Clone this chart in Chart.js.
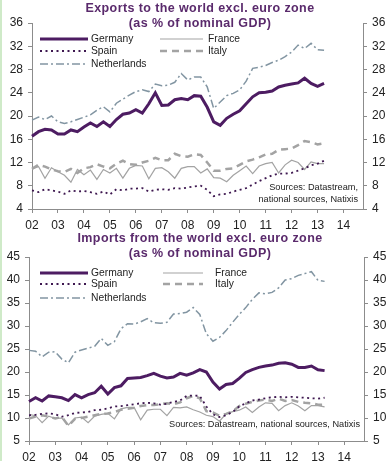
<!DOCTYPE html>
<html>
<head>
<meta charset="utf-8">
<script src="https://cdn.jsdelivr.net/npm/chart.js@4.4.1/dist/chart.umd.min.js"></script>
<style>
  body { margin: 0; background: #fff; }
  #wrap { position: relative; width: 391px; height: 461px; overflow: hidden; }
  #wrap canvas { position: absolute; left: 0; }
  #strip { position: absolute; left: 0; top: 0; width: 2px; height: 461px; background: #cfeac8; z-index: 2; }
</style>
</head>
<body>
<div id="wrap">
  <div id="strip"></div>
  <canvas id="exports_chart" style="top:0" width="391" height="230"></canvas>
  <canvas id="imports_chart" style="top:230px" width="391" height="231"></canvas>
</div>
<script>
// quarterly axis 2002Q1 .. 2014Q4
var years = [2002, 2003, 2004, 2005, 2006, 2007, 2008, 2009, 2010, 2011, 2012, 2013, 2014];
var quarters = [];
years.forEach((y) => {
    ["Q1", "Q2", "Q3", "Q4"].forEach((q) => quarters.push(y + q));
});

// exports to the world excl. euro zone, % of GDP (2002Q1 .. 2013Q2)
var germany_exp = [16.5, 17.3, 17.7, 17.6, 16.9, 16.9, 17.6, 17.3, 18.1, 18.8, 18.2, 19.0, 18.2, 19.4, 20.3, 20.5, 21.1, 20.5, 22.1, 24.0, 21.8, 21.9, 22.8, 23.0, 22.8, 23.5, 23.4, 21.5, 19.0, 18.4, 19.6, 20.3, 20.9, 22.1, 23.3, 24.0, 24.1, 24.3, 25.0, 25.3, 25.5, 25.7, 26.5, 25.6, 25.1, 25.6];
var france_exp = [10.9, 11.3, 9.3, 11.1, 10.4, 9.8, 8.6, 10.8, 9.9, 10.7, 9.1, 10.8, 10.2, 11.0, 9.3, 11.0, 11.5, 11.4, 9.2, 11.0, 11.1, 10.4, 9.3, 11.0, 11.3, 11.3, 10.2, 10.9, 9.4, 9.3, 8.7, 9.8, 10.6, 11.4, 10.1, 11.4, 11.8, 12.0, 10.2, 11.6, 12.4, 12.0, 10.8, 12.1, 11.8, 11.8];
var spain_exp = [7.2, 6.9, 7.4, 7.2, 7.0, 6.6, 7.2, 7.0, 7.1, 6.9, 6.6, 7.0, 6.5, 7.4, 7.2, 7.5, 7.5, 7.6, 7.0, 7.3, 7.4, 7.3, 7.6, 7.5, 7.7, 7.9, 8.0, 7.3, 6.2, 6.5, 6.6, 7.0, 7.3, 7.6, 8.2, 8.8, 9.3, 9.8, 10.1, 10.1, 10.2, 10.6, 11.0, 11.5, 11.8, 12.3];
var italy_exp = [10.9, 11.6, 11.3, 10.8, 10.5, 10.4, 10.9, 10.2, 11.0, 11.2, 11.7, 11.3, 11.0, 11.8, 12.3, 11.7, 11.6, 12.0, 12.3, 12.8, 12.4, 12.4, 13.5, 13.1, 13.0, 13.4, 13.3, 12.0, 10.6, 10.6, 10.9, 11.0, 11.6, 12.2, 12.5, 12.9, 13.4, 13.5, 14.2, 14.3, 14.4, 15.0, 15.7, 15.5, 15.1, 15.3];
var netherlands_exp = [19.3, 19.8, 19.4, 20.0, 19.0, 18.7, 19.0, 19.4, 19.8, 20.2, 21.0, 21.6, 20.7, 22.2, 22.9, 23.6, 24.2, 24.5, 24.2, 25.5, 25.2, 25.3, 25.8, 27.3, 26.2, 26.7, 26.7, 25.0, 21.3, 22.4, 23.5, 23.9, 24.5, 26.0, 28.2, 28.4, 28.7, 29.2, 29.6, 30.2, 31.0, 32.2, 31.6, 32.5, 31.4, 31.3];

// imports from the world excl. euro zone, % of GDP (2002Q1 .. 2013Q2)
var germany_imp = [13.6, 14.4, 13.7, 14.8, 14.6, 14.4, 13.8, 15.1, 14.4, 15.1, 15.5, 16.9, 15.2, 16.6, 17.0, 18.6, 18.7, 18.8, 19.2, 19.7, 19.1, 18.7, 18.9, 19.7, 19.3, 19.8, 20.5, 20.0, 17.8, 16.3, 17.3, 17.5, 18.6, 19.9, 20.5, 21.0, 21.3, 21.5, 21.9, 22.0, 21.7, 21.0, 21.0, 21.3, 20.5, 20.3];
var france_imp = [10.8, 10.5, 9.0, 10.4, 9.9, 10.0, 8.5, 10.0, 10.2, 9.0, 10.4, 10.8, 11.0, 9.8, 12.0, 12.3, 12.3, 9.6, 11.7, 11.9, 11.9, 10.5, 12.3, 12.2, 12.4, 11.8, 11.3, 10.6, 10.3, 9.3, 10.9, 11.4, 11.7, 12.4, 11.2, 12.4, 13.3, 13.2, 11.6, 12.7, 13.3, 12.6, 11.6, 12.7, 12.7, 12.4];
var spain_imp = [10.6, 10.7, 10.9, 11.0, 10.8, 10.3, 10.6, 11.1, 11.2, 11.3, 11.7, 11.8, 12.1, 12.5, 12.6, 12.8, 13.0, 13.2, 13.3, 13.2, 12.9, 13.1, 13.5, 13.8, 14.8, 14.9, 14.8, 12.5, 10.8, 10.2, 10.6, 11.3, 12.5, 13.2, 13.8, 14.0, 14.3, 14.5, 14.6, 14.5, 14.6, 14.5, 14.4, 14.3, 14.2, 14.4];
var italy_imp = [9.9, 10.3, 10.6, 10.3, 9.9, 10.2, 8.3, 9.8, 10.0, 10.3, 10.6, 10.9, 11.0, 11.3, 11.8, 12.0, 12.2, 12.6, 12.8, 12.8, 13.0, 13.2, 13.0, 13.4, 14.3, 14.8, 14.3, 11.5, 11.2, 10.5, 10.9, 11.4, 12.6, 13.1, 13.5, 13.8, 14.0, 13.7, 14.2, 13.7, 13.9, 13.5, 13.3, 13.2, 12.9, 12.9];
var netherlands_imp = [24.7, 24.5, 23.3, 24.3, 24.4, 22.8, 22.0, 24.3, 24.8, 25.2, 25.6, 27.3, 25.8, 26.6, 29.4, 30.5, 30.4, 30.9, 31.6, 30.7, 30.6, 30.8, 32.6, 32.7, 33.0, 34.0, 32.5, 28.3, 26.7, 27.5, 29.0, 30.8, 32.5, 34.0, 35.8, 37.2, 37.0, 37.3, 38.3, 40.0, 40.3, 41.0, 41.4, 41.8, 39.9, 39.7];

Chart.defaults.font.family = "'Liberation Sans', Arial, sans-serif";
Chart.defaults.color = "#222";

var series_style = {
    "Germany": { color: "#4d1c62", width: 3, dash: [] },
    "France": { color: "#a3a3a3", width: 1.2, dash: [] },
    "Spain": { color: "#3e1850", width: 1.8, dash: [2, 3.5] },
    "Italy": { color: "#a3a3a3", width: 2.5, dash: [7, 5] },
    "Netherlands": { color: "#8295a2", width: 1.5, dash: [8, 3, 2, 3] }
};

var make_dataset = (label, values) => {
    var s = series_style[label];
    return {
        label: label,
        data: [...values],
        borderColor: s.color,
        borderWidth: s.width,
        borderDash: s.dash,
        pointRadius: 0,
        tension: 0,
        fill: false
    };
};

// titles, in-plot legend and sources note
var deco_plugin = {
    id: "deco",
    afterDraw: (chart, args, opts) => {
        var ctx = chart.ctx;
        ctx.save();
        ctx.fillStyle = "#5a2a6c";
        ctx.font = "bold 12.5px 'Liberation Sans', Arial";
        ctx.textAlign = "center";
        ctx.textBaseline = "middle";
        ctx.letterSpacing = "0.4px";
        opts.title.forEach((line, i) => ctx.fillText(line, 200, 9 + i * 15));
        ctx.letterSpacing = "0px";

        ctx.font = "10.3px 'Liberation Sans', Arial";
        ctx.textAlign = "left";
        ctx.fillStyle = "#222";
        opts.legend.forEach((item) => {
            var ds = chart.data.datasets.find((d) => d.label == item.label);
            ctx.beginPath();
            ctx.strokeStyle = ds.borderColor;
            ctx.lineWidth = ds.borderWidth;
            ctx.setLineDash(ds.borderDash);
            ctx.moveTo(item.x0, item.y);
            ctx.lineTo(item.x1, item.y);
            ctx.stroke();
            ctx.setLineDash([]);
            ctx.fillText(item.label, item.tx, item.y);
        });

        ctx.font = "9.2px 'Liberation Sans', Arial";
        ctx.textAlign = "right";
        opts.source.forEach((line, i) => ctx.fillText(line, opts.sx, opts.sy + i * 12));
        ctx.restore();
    }
};

var year_ticks = (scale) => {
    scale.ticks = scale.ticks.filter((t) => quarters[t.value].endsWith("Q1"));
};

var create_chart = (canva, datasets, y_min, y_max, y_step, area, deco) => {
    var y_axis = (pos, width) => ({
        type: "linear",
        position: pos,
        min: y_min,
        max: y_max,
        ticks: { stepSize: y_step, padding: 5, font: { size: 12 }, color: "#222" },
        grid: { drawOnChartArea: false, tickLength: 4, color: "#8c8c8c" },
        border: { color: "#8c8c8c" },
        afterFit: (s) => { s.width = width; }
    });
    var config = {
        type: "line",
        data: { labels: quarters, datasets: datasets },
        options: {
            responsive: false,
            animation: false,
            layout: { padding: { top: area.top, left: 0, right: 0, bottom: 0 } },
            scales: {
                x: {
                    type: "category",
                    offset: false,
                    afterBuildTicks: year_ticks,
                    afterFit: (s) => { s.height = area.xh; },
                    ticks: {
                        autoSkip: false,
                        maxRotation: 0,
                        padding: 5,
                        font: { size: 12 },
                        color: "#222",
                        callback: (v) => quarters[v].slice(2, 4)
                    },
                    grid: { drawOnChartArea: false, tickLength: 4, color: "#8c8c8c" },
                    border: { color: "#8c8c8c" }
                },
                y: y_axis("left", area.left),
                y2: y_axis("right", area.right)
            },
            plugins: {
                legend: { display: false },
                tooltip: { enabled: false },
                deco: deco
            }
        },
        plugins: [deco_plugin]
    };
    return new Chart(canva, config);
};

var legend_rows = (ys, col2) => [
    { label: "Germany", x0: 40, x1: 88, tx: 91, y: ys[0] },
    { label: "France", x0: col2[0], x1: col2[1], tx: col2[2], y: ys[0] },
    { label: "Spain", x0: 40, x1: 88, tx: 91, y: ys[1] },
    { label: "Italy", x0: col2[0], x1: col2[1], tx: col2[2], y: ys[1] },
    { label: "Netherlands", x0: 40, x1: 88, tx: 91, y: ys[2] }
];

create_chart(
    document.getElementById("exports_chart"),
    [
        make_dataset("Germany", germany_exp),
        make_dataset("Spain", spain_exp),
        make_dataset("France", france_exp),
        make_dataset("Italy", italy_exp),
        make_dataset("Netherlands", netherlands_exp)
    ],
    4, 36, 4,
    { top: 23, left: 32, right: 28, xh: 21 },
    {
        title: ["Exports to the world excl. euro zone", "(as % of nominal GDP)"],
        legend: legend_rows([39, 51, 64], [160, 203, 208]),
        source: ["Sources: Datastream,", "national sources, Natixis"],
        sx: 358, sy: 187
    }
);

create_chart(
    document.getElementById("imports_chart"),
    [
        make_dataset("Germany", germany_imp),
        make_dataset("Spain", spain_imp),
        make_dataset("France", france_imp),
        make_dataset("Italy", italy_imp),
        make_dataset("Netherlands", netherlands_imp)
    ],
    5, 45, 5,
    { top: 27, left: 29, right: 27, xh: 20 },
    {
        title: ["Imports from the world excl. euro zone", "(as % of nominal GDP)"],
        legend: legend_rows([43, 54, 68], [163, 203, 215]),
        source: ["Sources: Datastream, national sources, Natixis"],
        sx: 360, sy: 194
    }
);
</script>
</body>
</html>
